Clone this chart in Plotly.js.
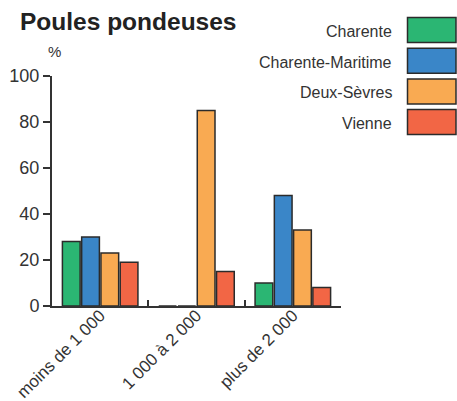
<!DOCTYPE html>
<html><head><meta charset="utf-8">
<script src="https://cdn.plot.ly/plotly-3.0.1.min.js"></script>
<style>html,body{margin:0;padding:0;background:#fff}#chart{width:457px;height:401px}</style>
</head><body><div id="chart"></div>
<script>
const categories = ["moins de 1 000", "1 000 à 2 000", "plus de 2 000"];
const seriesNames = ["Charente", "Charente-Maritime", "Deux-Sèvres", "Vienne"];
const seriesColors = ["#2bb673", "#3a86c8", "#f9aa52", "#f26645"];
const charente = [28, 0, 10];
const charenteMaritime = [30, 0, 48];
const deuxSevres = [23, 85, 33];
const vienne = [19, 15, 8];
const yTicks = [0, 20, 40, 60, 80, 100];

const seriesValues = [charente, charenteMaritime, deuxSevres, vienne];
const font = "Liberation Sans, Arial, sans-serif";

const traces = seriesValues.map((vals, i) => ({
  type: "bar", x: categories, y: vals, name: seriesNames[i],
  marker: {color: seriesColors[i], line: {color: "#2b2b2b", width: 1.5}},
  showlegend: false, hoverinfo: "skip"
}));

const annotations = [
  {text: "%", xref: "paper", yref: "paper", x: (46 - 52) / 289, y: 1 + (76 - 62) / 230, xanchor: "left", yanchor: "bottom", showarrow: false, font: {family: font, size: 15, color: "#333"}}
];
const shapes = [];
seriesNames.forEach((n, i) => {
  const top = 17.5 + i * 30.7;
  annotations.push({text: n, xref: "paper", yref: "paper", x: (394 - 52) / 289, y: 1 - ((top + 14) - 76) / 230, xanchor: "right", yanchor: "middle", showarrow: false, font: {family: font, size: 16, color: "#333"}});
  shapes.push({type: "rect", xref: "paper", yref: "paper", x0: (407.5 - 52) / 289, x1: (456 - 52) / 289, y0: 1 - (top - 76) / 230, y1: 1 - (top + 25 - 76) / 230, fillcolor: seriesColors[i], line: {color: "#2b2b2b", width: 1.5}});
});

const layout = {
  width: 457, height: 401,
  margin: {l: 52, r: 116, t: 76, b: 95},
  paper_bgcolor: "#fff", plot_bgcolor: "#fff",
  title: {text: "<b>Poules pondeuses</b>", x: 20 / 457, xanchor: "left", y: 1 - 21 / 401, yanchor: "middle", font: {family: font, size: 24.5, color: "#222"}},
  barmode: "group", bargap: 0.2, bargroupgap: 0.08,
  xaxis: {
    type: "category", showgrid: false, zeroline: false,
    showline: true, linecolor: "#333", linewidth: 2,
    tickson: "boundaries", ticks: "inside", ticklen: 6, tickwidth: 2, tickcolor: "#333",
    tickangle: -45, ticklabelstandoff: -9, tickfont: {family: font, size: 17, color: "#333"}
  },
  yaxis: {
    range: [0, 100], tickvals: yTicks, showgrid: false, zeroline: false,
    showline: true, linecolor: "#333", linewidth: 2,
    ticks: "outside", ticklen: 7, tickwidth: 2, tickcolor: "#333",
    tickfont: {family: font, size: 18, color: "#333"}
  },
  annotations: annotations, shapes: shapes, showlegend: false
};
Plotly.newPlot("chart", traces, layout, {displayModeBar: false, staticPlot: true});
</script></body></html>
